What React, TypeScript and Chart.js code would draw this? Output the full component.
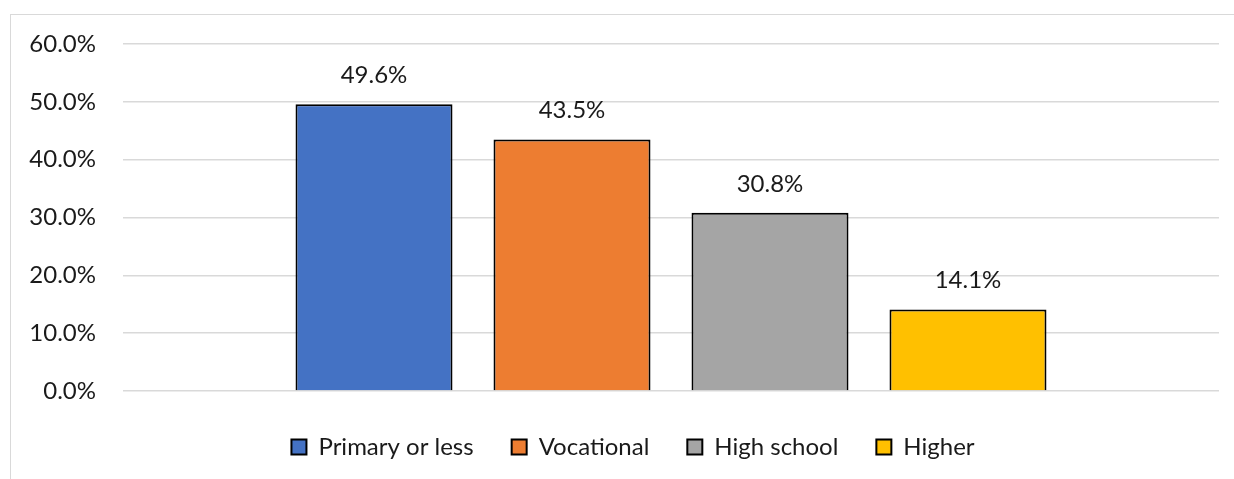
import React, { useEffect, useRef } from "react";
import { Chart, registerables } from "chart.js";

Chart.register(...registerables);

const categories = [""];
const seriesNames = ["Primary or less", "Vocational", "High school", "Higher"];
const seriesValues = [49.6, 43.5, 30.8, 14.1];
const seriesColors = ["#4472C4", "#ED7D31", "#A5A5A5", "#FFC000"];
const yMax = 60;
const yStep = 10;

const FONT = "Lato, 'Noto Sans', sans-serif";

const valueLabels = {
  id: "valueLabels",
  afterDatasetsDraw(chart: any) {
    const ctx = chart.ctx;
    ctx.save();
    ctx.font = `24px ${FONT}`;
    ctx.fillStyle = "#1a1a1a";
    ctx.textAlign = "center";
    ctx.textBaseline = "middle";
    chart.data.datasets.forEach((ds: any, i: number) => {
      const meta = chart.getDatasetMeta(i);
      meta.data.forEach((el: any, j: number) => {
        const v = ds.data[j];
        ctx.fillText(v.toFixed(1) + "%", el.x, el.y - 29);
      });
    });
    ctx.restore();
  },
};

const legendShift = {
  id: "legendShift",
  afterLayout(chart: any) {
    if (chart.legend) {
      chart.legend.left += 18;
      chart.legend.right += 18;
    }
  },
};

export default function App() {
  const ref = useRef<HTMLCanvasElement | null>(null);
  useEffect(() => {
    if (!ref.current) return;
    const chart = new Chart(ref.current, {
      type: "bar",
      data: {
        labels: categories,
        datasets: seriesNames.map((name, i) => ({
          label: name,
          data: [seriesValues[i]],
          backgroundColor: seriesColors[i],
          borderColor: "#000000",
          borderWidth: 2,
          categoryPercentage: 0.7226,
          barPercentage: 0.793,
        })),
      },
      options: {
        animation: false,
        responsive: false,
        maintainAspectRatio: false,
        layout: { padding: { top: 29, right: 15, bottom: 10, left: 0 } },
        plugins: {
          tooltip: { enabled: false },
          legend: {
            position: "bottom",
            labels: {
              boxWidth: 15,
              boxHeight: 15,
              padding: 38,
              color: "#1a1a1a",
              font: { size: 24, family: FONT },
            },
          },
        },
        scales: {
          x: {
            display: true,
            grid: { display: false },
            border: { display: false },
            ticks: { display: false },
            afterFit: (s: any) => {
              s.height = 6;
            },
          },
          y: {
            min: 0,
            max: yMax,
            ticks: {
              stepSize: yStep,
              padding: 27,
              color: "#1a1a1a",
              font: { size: 24, family: FONT },
              callback: (v: any) => Number(v).toFixed(1) + "%",
            },
            grid: { color: "#d9d9d9", lineWidth: 1.5, drawTicks: false },
            border: { display: false },
            afterFit: (s: any) => {
              s.width = 112;
              s.paddingTop = 0;
              s.paddingBottom = 0;
            },
          },
        },
      },
      plugins: [valueLabels, legendShift],
    });
    return () => chart.destroy();
  }, []);
  return (
    <div
      style={{
        position: "fixed",
        left: 10,
        top: 14,
        width: 1224,
        height: 465,
        borderLeft: "1px solid #d9d9d9",
        borderTop: "1px solid #d9d9d9",
        background: "#fff",
      }}
    >
      <canvas ref={ref} width={1223} height={464} style={{ display: "block" }} />
    </div>
  );
}
